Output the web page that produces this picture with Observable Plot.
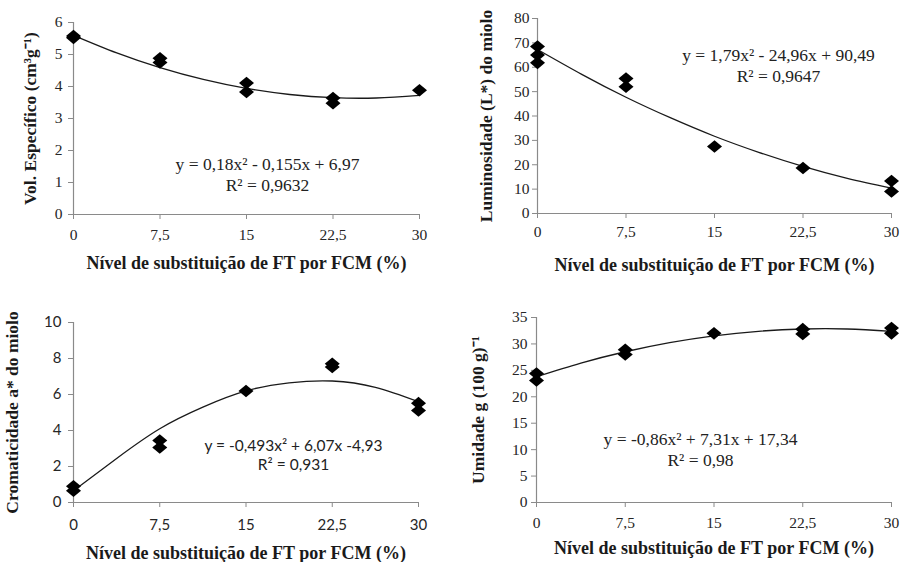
<!DOCTYPE html>
<html><head><meta charset="utf-8">
<script src="https://cdn.jsdelivr.net/npm/d3@7"></script>
<script src="https://cdn.jsdelivr.net/npm/@observablehq/plot@0.6"></script>
<style>
body{margin:0;background:#fff}
#wrap{position:relative;width:903px;height:562px;overflow:hidden;background:#fff}
.panel{position:absolute}
.panel svg{overflow:visible}
</style></head><body><div id="wrap"></div>
<script>
// Shared x categories (substitution level, %)
const xTicks = [0, 7.5, 15, 22.5, 30];
const xTitle = "Nível de substituição de FT por FCM (%)";
// Trend line read at every 3.75 % step
const fitX = [0, 3.75, 7.5, 11.25, 15, 18.75, 22.5, 26.25, 30];

// Panel A: Vol. específico
const volX = [0, 0, 7.5, 7.5, 15, 15, 22.5, 22.5, 30];
const volY = [5.58, 5.52, 4.88, 4.75, 4.11, 3.83, 3.64, 3.48, 3.88];
const volFit = [5.6, 5.05, 4.59, 4.22, 3.94, 3.75, 3.65, 3.64, 3.72];
const volTicks = [0, 1, 2, 3, 4, 5, 6];
const volTitle = "Vol. Específico (cm³g⁻¹)";
const volEq = "y = 0,18x² - 0,155x + 6,97\nR² = 0,9632";

// Panel B: Luminosidade
const lumX = [0, 0, 0, 7.5, 7.5, 15, 22.5, 30, 30];
const lumY = [68.5, 65, 61.8, 55.4, 52, 27.5, 18.7, 13.3, 9];
const lumFit = [67.3, 57.1, 47.7, 39.3, 31.7, 25.1, 19.3, 14.4, 10.4];
const lumTicks = [0, 10, 20, 30, 40, 50, 60, 70, 80];
const lumTitle = "Luminosidade (L*) do miolo";
const lumEq = "y = 1,79x² - 24,96x + 90,49\nR² = 0,9647";

// Panel C: Cromaticidade a*
const croX = [0, 0, 7.5, 7.5, 15, 22.5, 22.5, 30, 30];
const croY = [0.9, 0.65, 3.45, 3.05, 6.19, 7.71, 7.53, 5.52, 5.11];
const croFit = [0.65, 2.45, 4.1, 5.3, 6.2, 6.65, 6.75, 6.4, 5.6];
const croTicks = [0, 2, 4, 6, 8, 10];
const croTitle = "Cromaticidade a* do miolo";
const croEq = "y = -0,493x² + 6,07x -4,93\nR² = 0,931";

// Panel D: Umidade
const umiX = [0, 0, 7.5, 7.5, 15, 22.5, 22.5, 30, 30];
const umiY = [24.4, 23.1, 28.9, 28.0, 32.0, 32.8, 31.9, 33.0, 32.0];
const umiFit = [23.79, 26.37, 28.52, 30.24, 31.53, 32.39, 32.82, 32.82, 32.39];
const umiTicks = [0, 5, 10, 15, 20, 25, 30, 35];
const umiTitle = "Umidade g (100 g)⁻¹";
const umiEq = "y = -0,86x² + 7,31x + 17,34\nR² = 0,98";

const serif = "Liberation Serif, Times New Roman, serif";
const sans = "Lato, Open Sans, sans-serif";
const fmt = d => String(d).replace(".", ",");
const axisGray = "#8a8a8a";

// Slightly wide diamond marker (like the reference's)
const wideDiamond = {
  draw(ctx, size) {
    const s = Math.sqrt(size / Math.PI);
    const rx = s * 1.14, ry = s * 0.95;
    ctx.moveTo(0, -ry);
    ctx.lineTo(rx, 0);
    ctx.lineTo(0, ry);
    ctx.lineTo(-rx, 0);
    ctx.closePath();
  }
};

function panel(cfg) {
  const pts = cfg.px.map((x, i) => ({x, y: cfg.py[i]}));
  const fit = fitX.map((x, i) => ({x, y: cfg.fit[i]}));
  const ml = cfg.m[3], mt = cfg.m[0], mb = cfg.m[2], mr = cfg.m[1];
  const tickText = {fontFamily: cfg.tickFont, fontSize: cfg.tickSize, fill: "#262626"};
  return Plot.plot({
    width: cfg.w, height: cfg.h,
    marginTop: mt, marginRight: mr, marginBottom: mb, marginLeft: ml,
    style: {fontFamily: cfg.tickFont, fontSize: cfg.tickSize + "px", color: "#222", background: "transparent", overflow: "visible"},
    x: {domain: [0, 30]},
    y: {domain: [0, cfg.yTicks[cfg.yTicks.length - 1]]},
    marks: [
      Plot.axisX({ticks: xTicks, tickFormat: fmt, tickSize: 5, tickPadding: cfg.xPad, stroke: axisGray, label: null, ...tickText}),
      Plot.axisY({ticks: cfg.yTicks, tickFormat: fmt, tickSize: 5, tickPadding: cfg.yPad, stroke: axisGray, label: null, ...tickText}),
      Plot.ruleX([0], {stroke: axisGray, strokeWidth: 1.2}),
      Plot.ruleY([0], {stroke: axisGray, strokeWidth: 1.2}),
      Plot.line(fit, {x: "x", y: "y", curve: "natural", stroke: "#1a1a1a", strokeWidth: 1.3}),
      Plot.dot(pts, {x: "x", y: "y", symbol: wideDiamond, r: 6.6, fill: "#000", stroke: "none"}),
      Plot.text([cfg.eq], {text: d => d, frameAnchor: "top-left", dx: cfg.eqPos[0], dy: cfg.eqPos[1],
        textAnchor: "middle", lineAnchor: "middle", lineHeight: 1.2, fontFamily: cfg.eqFont, fontSize: cfg.eqSize, fill: "#222"}),
      Plot.text([xTitle], {text: d => d, frameAnchor: "bottom", dy: cfg.xOff, textAnchor: "middle", lineAnchor: "middle",
        fontFamily: serif, fontWeight: "bold", fontSize: 18, fill: "#1a1a1a"}),
      Plot.text([cfg.yTitle], {text: d => d, frameAnchor: "left", dx: -cfg.yOff, rotate: -90, textAnchor: "middle", lineAnchor: "middle",
        fontFamily: serif, fontWeight: "bold", fontSize: 17.5, fill: "#1a1a1a"})
    ]
  });
}

const wrap = document.getElementById("wrap");
const specs = [
  {left: 0, top: 0, w: 450, h: 280, m: [22, 31, 66, 73], px: volX, py: volY, fit: volFit, yTicks: volTicks,
   yTitle: volTitle, eq: volEq, eqPos: [194, 151], xOff: 49, yOff: 43, xPad: 9, yPad: 6,
   tickFont: serif, tickSize: 15.5, eqFont: serif, eqSize: 17.5},
  {left: 450, top: 0, w: 453, h: 280, m: [18, 12, 67, 87], px: lumX, py: lumY, fit: lumFit, yTicks: lumTicks,
   yTitle: lumTitle, eq: lumEq, eqPos: [241, 46], xOff: 52, yOff: 51, xPad: 7, yPad: 3,
   tickFont: serif, tickSize: 15.5, eqFont: serif, eqSize: 17.5},
  {left: 0, top: 300, w: 450, h: 262, m: [22, 32, 60, 73], px: croX, py: croY, fit: croFit, yTicks: croTicks,
   yTitle: croTitle, eq: croEq, eqPos: [220, 132], xOff: 51, yOff: 61, xPad: 12, yPad: 7,
   tickFont: sans, tickSize: 15, eqFont: sans, eqSize: 15.5},
  {left: 450, top: 300, w: 453, h: 262, m: [17, 12, 60, 86], px: umiX, py: umiY, fit: umiFit, yTicks: umiTicks,
   yTitle: umiTitle, eq: umiEq, eqPos: [164, 131], xOff: 46, yOff: 58, xPad: 9, yPad: 4,
   tickFont: serif, tickSize: 15.5, eqFont: serif, eqSize: 17.5}
];
for (const s of specs) {
  const d = document.createElement("div");
  d.className = "panel";
  d.style.left = s.left + "px";
  d.style.top = s.top + "px";
  d.appendChild(panel(s));
  wrap.appendChild(d);
}
</script>
</body></html>
